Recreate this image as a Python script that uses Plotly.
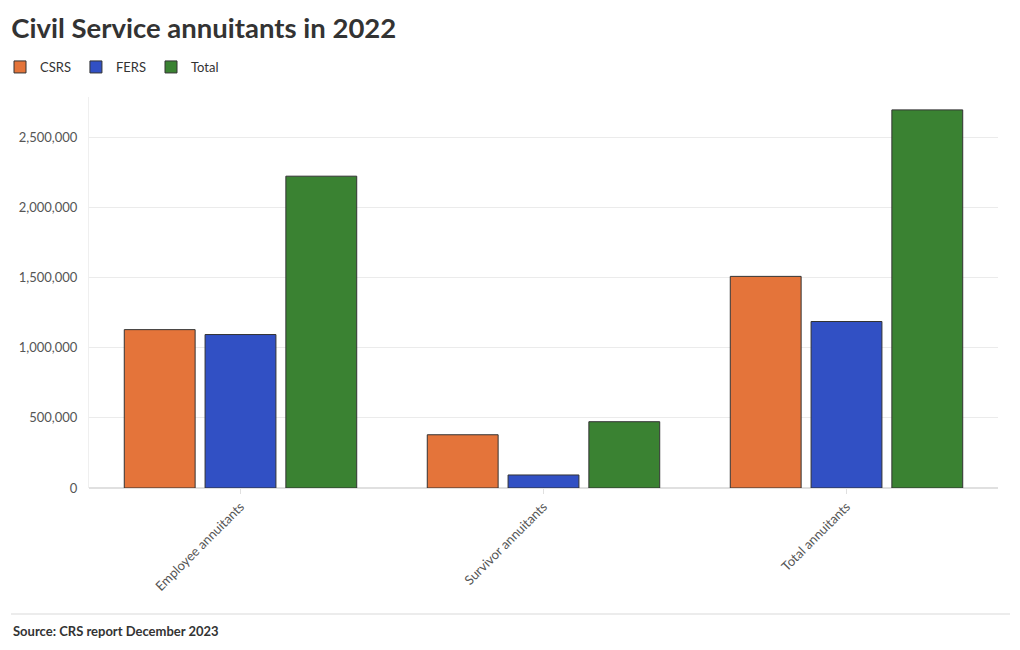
import plotly.graph_objects as go

categories = ["Employee annuitants", "Survivor annuitants", "Total annuitants"]
csrs = [1130000, 380000, 1510000]
fers = [1095000, 93000, 1188000]
total = [2225000, 473000, 2698000]

series = [("CSRS", csrs, "#e4743a"), ("FERS", fers, "#3150c4"), ("Total", total, "#3a8232")]

fig = go.Figure()
for name, vals, col in series:
    fig.add_trace(go.Bar(
        x=categories, y=vals, name=name,
        marker=dict(color=col, line=dict(color="#333333", width=1)),
    ))

fig.update_layout(
    width=1020, height=650,
    paper_bgcolor="white", plot_bgcolor="white",
    font=dict(family="Lato, Noto Sans, sans-serif", color="#333333", size=13),
    margin=dict(l=89, r=22, t=97, b=162, autoexpand=False),
    barmode="group", bargap=0.2, bargroupgap=0.123,
    title=dict(text="<b>Civil Service annuitants in 2022</b>", x=0.011, xanchor="left",
               y=0.957, yanchor="middle", font=dict(size=27.5, color="#333333")),
    legend=dict(orientation="h", xref="container", yref="container", x=0.0, xanchor="left",
                y=1 - 67/650, yanchor="middle",
                font=dict(size=13, color="#333333"), traceorder="normal",
                itemwidth=30, tracegroupgap=0),
    showlegend=True,
)
fig.update_yaxes(range=[0, 2790000], tickformat=",d", dtick=500000,
                 gridcolor="#ebebeb", zeroline=True, zerolinecolor="#e0e0e0",
                 showline=True, linecolor="#efefef", tickfont=dict(color="#555555", size=13),
                 ticks="", ticklabelstandoff=8)
fig.update_xaxes(tickangle=-45, tickfont=dict(color="#555555", size=13),
                 ticks="outside", ticklen=5, tickcolor="#e0e0e0", showline=False)

fig.add_shape(type="line", xref="paper", yref="paper",
              x0=-78/909, x1=(1010-89)/909, y0=-(614-488)/391, y1=-(614-488)/391,
              line=dict(color="#d9d9d9", width=1))
fig.add_annotation(text="<b>Source: CRS report December 2023</b>", xref="paper", yref="paper",
                   x=-78/909, xanchor="left", y=-(631-488)/391, yanchor="middle",
                   showarrow=False, font=dict(size=13, color="#333333"))

fig.write_html("out.html")
